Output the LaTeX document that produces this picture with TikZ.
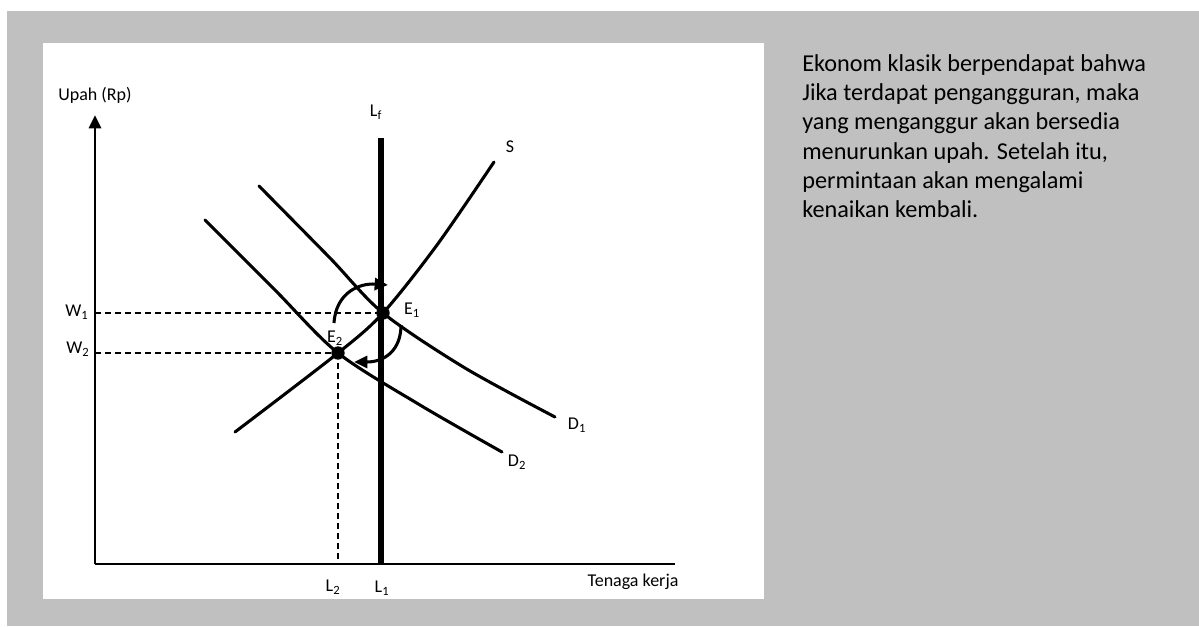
\documentclass[tikz,border=0pt]{standalone}
\usepackage{fontspec}
\setmainfont{Carlito}
\usepackage{xcolor}
\usetikzlibrary{arrows.meta, positioning, calc}
\definecolor{panel}{RGB}{192,192,192}

\begin{document}
\begin{tikzpicture}[
    x=0.75pt, y=-0.75pt,
    axis/.style={line width=2.2pt},
    curve/.style={line width=2.3pt, line cap=round},
    guide/.style={line width=0.9pt, dash pattern=on 4.5pt off 3pt},
    dot/.style={circle, fill=black, inner sep=0pt, minimum size=10pt},
    lbl/.style={font=\fontsize{13.5}{16}\selectfont, inner sep=1pt},
    move/.style={line width=2.3pt, -{Triangle[length=10pt, width=9pt]}},
    note/.style={font=\fontsize{18.2}{22}\selectfont, align=left, inner sep=0pt}
  ]
  \useasboundingbox (0,0) rectangle (1199,626);
  % Background
  \fill[white] (0,0) rectangle (1199,626);
  \fill[panel] (7,11) rectangle (1199,626);
  \fill[white] (43,43) rectangle (764,599);

  % Axes
  \coordinate (O) at (95,564);
  \coordinate (ytop) at (95,115);
  \coordinate (xend) at (675,564);
  \draw[axis, -{Triangle[length=10pt, width=9pt]}] (O) -- (ytop);
  \draw[axis] (O) -- (xend);
  \node[lbl] (upah) at (95,95) {Upah (Rp)};
  \node[lbl] (tenaga) at (633,582) {Tenaga kerja};

  % Points
  \coordinate (E1) at (383,313);
  \coordinate (E2) at (338,353);
  \coordinate (W1) at (95,313);
  \coordinate (W2) at (95,353);
  \coordinate (L2) at (338,564);

  % Guides
  \draw[guide] (W1) -- (E1);
  \draw[guide] (W2) -- (E2);
  \draw[guide] (E2) -- (L2);

  % Curves
  \draw[line width=3.8pt] (381,564) -- (381,138);
  \draw[curve] plot[smooth] coordinates {(235,432) (338,353) (383,313) (437,245) (494,162)};
  \draw[curve] plot[smooth] coordinates {(259,186) (330,258) (383,313) (465,368) (555,417)};
  \draw[curve] plot[smooth] coordinates {(205,220) (275,290) (338,353) (420,405) (502,452)};

  % Shifts
  \draw[move] (334,323) .. controls (336,292) and (360,283) .. (388,285);
  \draw[move] (401,325) .. controls (401,350) and (385,362) .. (354,362);

  \node[dot] (e1) at (E1) {};
  \node[dot] (e2) at (E2) {};

  % Labels
  \node[lbl] (lf) at (376,112) {L\textsubscript{f}};
  \node[lbl] (s) at (510,147) {S};
  \node[lbl] (d1) at (577,425) {D\textsubscript{1}};
  \node[lbl] (d2) at (517,462) {D\textsubscript{2}};
  \node[lbl] (e1l) at (412,310) {E\textsubscript{1}};
  \node[lbl] (e2l) at (335,338) {E\textsubscript{2}};
  \node[lbl] (w1) at (77,312) {W\textsubscript{1}};
  \node[lbl] (w2) at (78,349) {W\textsubscript{2}};
  \node[lbl] (l2) at (333,587) {L\textsubscript{2}};
  \node[lbl] (l1) at (382,588) {L\textsubscript{1}};

  % Text
  \node[note, anchor=north west] (txt) at (802,54) {Ekonom klasik berpendapat bahwa\\
    Jika terdapat pengangguran, maka\\
    yang menganggur akan bersedia\\
    menurunkan upah. Setelah itu,\\
    permintaan akan mengalami\\
    kenaikan kembali.};
\end{tikzpicture}
\end{document}
